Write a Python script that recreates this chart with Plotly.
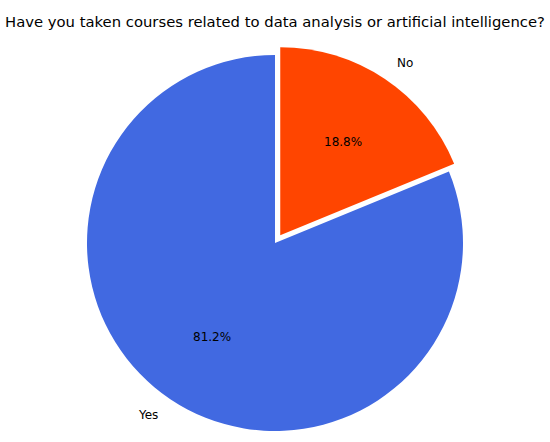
import numpy as np
import plotly.graph_objects as go

labels = ["Yes", "No"]
values = [81.2, 18.8]
colors = ["#4169E1", "#FF4500"]
pulls = [0, 0.05]
title = "Have you taken courses related to data analysis or artificial intelligence?"

W, H = 550, 442
# pie centre and radius in pixels
cx, cy, r = 275, 243, 188
span = r * (1 + max(pulls))
total = sum(values)

fig = go.Figure()
fig.add_trace(go.Pie(
    labels=labels,
    values=values,
    marker=dict(colors=colors, line=dict(width=0)),
    pull=pulls,
    sort=False,
    direction="counterclockwise",
    # first slice should run counterclockwise from 12 o'clock (matplotlib startangle=90)
    rotation=360 * (1 - values[0] / total),
    textinfo="none",
    hoverinfo="label+percent",
    showlegend=False,
    domain=dict(x=[max(0, (cx - span) / W), min(1, (cx + span) / W)],
                y=[max(0, (H - cy - span) / H), min(1, (H - cy + span) / H)]),
))

# labels outside (1.1 r) and percentages inside (0.6 r), like matplotlib
start = 90.0
for lab, v, p in zip(labels, values, pulls):
    frac = v / total
    mid = np.radians(start + frac * 360 / 2)
    start += frac * 360
    ox = cx + p * r * np.cos(mid)
    oy = cy - p * r * np.sin(mid)
    lx = ox + 1.1 * r * np.cos(mid)
    ly = oy - 1.1 * r * np.sin(mid)
    fig.add_annotation(x=lx / W, y=1 - ly / H, xref="paper", yref="paper",
                       text=lab, showarrow=False,
                       xanchor="left" if np.cos(mid) > 0 else "right",
                       yanchor="middle",
                       font=dict(family="DejaVu Sans", size=12, color="black"))
    tx = ox + 0.6 * r * np.cos(mid)
    ty = oy - 0.6 * r * np.sin(mid)
    fig.add_annotation(x=tx / W, y=1 - ty / H, xref="paper", yref="paper",
                       text=f"{frac * 100:.1f}%", showarrow=False,
                       xanchor="center", yanchor="middle",
                       font=dict(family="DejaVu Sans", size=12, color="black"))

fig.update_layout(
    width=W, height=H,
    margin=dict(l=0, r=0, t=0, b=0),
    paper_bgcolor="white", plot_bgcolor="white",
    title=dict(text=title, x=0.5, xanchor="center", y=1 - 22 / H,
               yref="container", yanchor="middle",
               font=dict(family="DejaVu Sans", size=14.8, color="black")),
)

# drop the default 8px body margin so the figure sits at the page corner
fig.write_html("out.html", config={"displayModeBar": False},
               post_script="document.body.style.margin='0';")
